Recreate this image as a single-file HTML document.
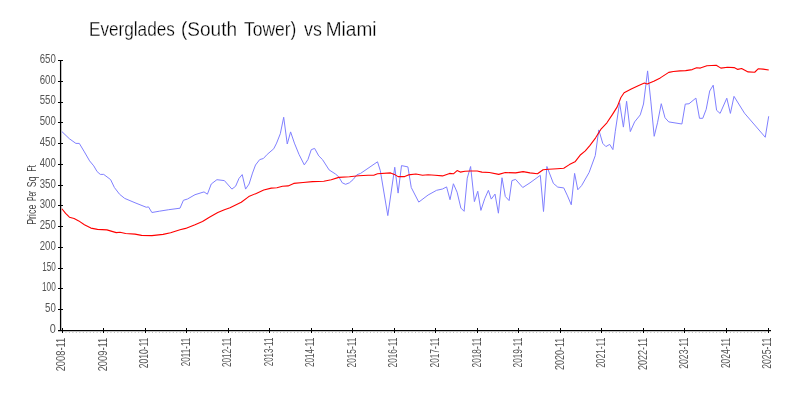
<!DOCTYPE html><html><head><meta charset="utf-8"><style>html,body{margin:0;padding:0;background:#fff;}svg{display:block;will-change:transform;}text{font-family:"Liberation Sans",sans-serif;}</style></head><body>
<svg width="800" height="400" viewBox="0 0 800 400">
<rect width="800" height="400" fill="#fff"/>
<text x="88.96" y="35.8" font-size="21" fill="#000" stroke="#fff" stroke-width="0.3" textLength="85.90" lengthAdjust="spacingAndGlyphs">Everglades</text>
<text x="180.99" y="35.8" font-size="21" fill="#000" stroke="#fff" stroke-width="0.3" textLength="56.05" lengthAdjust="spacingAndGlyphs">(South</text>
<text x="244.00" y="35.8" font-size="21" fill="#000" stroke="#fff" stroke-width="0.3" textLength="52.45" lengthAdjust="spacingAndGlyphs">Tower)</text>
<text x="304.00" y="35.8" font-size="21" fill="#000" stroke="#fff" stroke-width="0.3" textLength="17.85" lengthAdjust="spacingAndGlyphs">vs</text>
<text x="325.68" y="35.8" font-size="21" fill="#000" stroke="#fff" stroke-width="0.3" textLength="50.82" lengthAdjust="spacingAndGlyphs">Miami</text>
<g transform="translate(35.9,0) rotate(-90)">
<text x="-224.84" y="0" font-size="12" fill="#444" textLength="20.19" lengthAdjust="spacingAndGlyphs">Price</text>
<text x="-201.06" y="0" font-size="12" fill="#444" textLength="10.38" lengthAdjust="spacingAndGlyphs">Per</text>
<text x="-187.23" y="0" font-size="12" fill="#444" textLength="10.73" lengthAdjust="spacingAndGlyphs">Sq</text>
<text x="-171.60" y="0" font-size="12" fill="#444" textLength="6.40" lengthAdjust="spacingAndGlyphs">Ft</text>
</g>
<line x1="58" y1="330.5" x2="63" y2="330.5" stroke="#000" stroke-width="1"/>
<text x="49.80" y="332.90" font-size="12.5" fill="#555" textLength="6.06" lengthAdjust="spacingAndGlyphs">0</text>
<line x1="58" y1="309.5" x2="63" y2="309.5" stroke="#000" stroke-width="1"/>
<text x="45.10" y="312.13" font-size="12.5" fill="#555" textLength="10.73" lengthAdjust="spacingAndGlyphs">50</text>
<line x1="58" y1="288.5" x2="63" y2="288.5" stroke="#000" stroke-width="1"/>
<text x="42.04" y="291.36" font-size="12.5" fill="#555" textLength="13.77" lengthAdjust="spacingAndGlyphs">100</text>
<line x1="58" y1="268.5" x2="63" y2="268.5" stroke="#000" stroke-width="1"/>
<text x="42.25" y="270.59" font-size="12.5" fill="#555" textLength="13.56" lengthAdjust="spacingAndGlyphs">150</text>
<line x1="58" y1="247.5" x2="63" y2="247.5" stroke="#000" stroke-width="1"/>
<text x="39.70" y="249.82" font-size="12.5" fill="#555" textLength="16.09" lengthAdjust="spacingAndGlyphs">200</text>
<line x1="58" y1="226.5" x2="63" y2="226.5" stroke="#000" stroke-width="1"/>
<text x="39.70" y="229.05" font-size="12.5" fill="#555" textLength="16.09" lengthAdjust="spacingAndGlyphs">250</text>
<line x1="58" y1="205.5" x2="63" y2="205.5" stroke="#000" stroke-width="1"/>
<text x="39.70" y="208.28" font-size="12.5" fill="#555" textLength="16.09" lengthAdjust="spacingAndGlyphs">300</text>
<line x1="58" y1="185.5" x2="63" y2="185.5" stroke="#000" stroke-width="1"/>
<text x="39.70" y="187.52" font-size="12.5" fill="#555" textLength="16.09" lengthAdjust="spacingAndGlyphs">350</text>
<line x1="58" y1="164.5" x2="63" y2="164.5" stroke="#000" stroke-width="1"/>
<text x="39.70" y="166.75" font-size="12.5" fill="#555" textLength="16.09" lengthAdjust="spacingAndGlyphs">400</text>
<line x1="58" y1="143.5" x2="63" y2="143.5" stroke="#000" stroke-width="1"/>
<text x="39.70" y="145.98" font-size="12.5" fill="#555" textLength="16.09" lengthAdjust="spacingAndGlyphs">450</text>
<line x1="58" y1="122.5" x2="63" y2="122.5" stroke="#000" stroke-width="1"/>
<text x="39.70" y="125.21" font-size="12.5" fill="#555" textLength="16.09" lengthAdjust="spacingAndGlyphs">500</text>
<line x1="58" y1="102.5" x2="63" y2="102.5" stroke="#000" stroke-width="1"/>
<text x="39.70" y="104.44" font-size="12.5" fill="#555" textLength="16.09" lengthAdjust="spacingAndGlyphs">550</text>
<line x1="58" y1="81.5" x2="63" y2="81.5" stroke="#000" stroke-width="1"/>
<text x="39.70" y="83.67" font-size="12.5" fill="#555" textLength="16.09" lengthAdjust="spacingAndGlyphs">600</text>
<line x1="58" y1="60.5" x2="63" y2="60.5" stroke="#000" stroke-width="1"/>
<text x="39.70" y="62.90" font-size="12.5" fill="#555" textLength="16.09" lengthAdjust="spacingAndGlyphs">650</text>
<rect x="65.46" y="332" width="1" height="1" fill="#bbb"/>
<rect x="68.92" y="332" width="1" height="1" fill="#bbb"/>
<rect x="72.38" y="332" width="1" height="1" fill="#bbb"/>
<rect x="75.84" y="332" width="1" height="1" fill="#bbb"/>
<rect x="79.30" y="332" width="1" height="1" fill="#bbb"/>
<rect x="82.77" y="332" width="1" height="1" fill="#bbb"/>
<rect x="86.23" y="332" width="1" height="1" fill="#bbb"/>
<rect x="89.69" y="332" width="1" height="1" fill="#bbb"/>
<rect x="93.15" y="332" width="1" height="1" fill="#bbb"/>
<rect x="96.61" y="332" width="1" height="1" fill="#bbb"/>
<rect x="100.07" y="332" width="1" height="1" fill="#bbb"/>
<rect x="106.99" y="332" width="1" height="1" fill="#bbb"/>
<rect x="110.45" y="332" width="1" height="1" fill="#bbb"/>
<rect x="113.91" y="332" width="1" height="1" fill="#bbb"/>
<rect x="117.37" y="332" width="1" height="1" fill="#bbb"/>
<rect x="120.83" y="332" width="1" height="1" fill="#bbb"/>
<rect x="124.29" y="332" width="1" height="1" fill="#bbb"/>
<rect x="127.76" y="332" width="1" height="1" fill="#bbb"/>
<rect x="131.22" y="332" width="1" height="1" fill="#bbb"/>
<rect x="134.68" y="332" width="1" height="1" fill="#bbb"/>
<rect x="138.14" y="332" width="1" height="1" fill="#bbb"/>
<rect x="141.60" y="332" width="1" height="1" fill="#bbb"/>
<rect x="148.52" y="332" width="1" height="1" fill="#bbb"/>
<rect x="151.98" y="332" width="1" height="1" fill="#bbb"/>
<rect x="155.44" y="332" width="1" height="1" fill="#bbb"/>
<rect x="158.90" y="332" width="1" height="1" fill="#bbb"/>
<rect x="162.36" y="332" width="1" height="1" fill="#bbb"/>
<rect x="165.82" y="332" width="1" height="1" fill="#bbb"/>
<rect x="169.29" y="332" width="1" height="1" fill="#bbb"/>
<rect x="172.75" y="332" width="1" height="1" fill="#bbb"/>
<rect x="176.21" y="332" width="1" height="1" fill="#bbb"/>
<rect x="179.67" y="332" width="1" height="1" fill="#bbb"/>
<rect x="183.13" y="332" width="1" height="1" fill="#bbb"/>
<rect x="190.05" y="332" width="1" height="1" fill="#bbb"/>
<rect x="193.51" y="332" width="1" height="1" fill="#bbb"/>
<rect x="196.97" y="332" width="1" height="1" fill="#bbb"/>
<rect x="200.43" y="332" width="1" height="1" fill="#bbb"/>
<rect x="203.89" y="332" width="1" height="1" fill="#bbb"/>
<rect x="207.35" y="332" width="1" height="1" fill="#bbb"/>
<rect x="210.82" y="332" width="1" height="1" fill="#bbb"/>
<rect x="214.28" y="332" width="1" height="1" fill="#bbb"/>
<rect x="217.74" y="332" width="1" height="1" fill="#bbb"/>
<rect x="221.20" y="332" width="1" height="1" fill="#bbb"/>
<rect x="224.66" y="332" width="1" height="1" fill="#bbb"/>
<rect x="231.58" y="332" width="1" height="1" fill="#bbb"/>
<rect x="235.04" y="332" width="1" height="1" fill="#bbb"/>
<rect x="238.50" y="332" width="1" height="1" fill="#bbb"/>
<rect x="241.96" y="332" width="1" height="1" fill="#bbb"/>
<rect x="245.42" y="332" width="1" height="1" fill="#bbb"/>
<rect x="248.88" y="332" width="1" height="1" fill="#bbb"/>
<rect x="252.35" y="332" width="1" height="1" fill="#bbb"/>
<rect x="255.81" y="332" width="1" height="1" fill="#bbb"/>
<rect x="259.27" y="332" width="1" height="1" fill="#bbb"/>
<rect x="262.73" y="332" width="1" height="1" fill="#bbb"/>
<rect x="266.19" y="332" width="1" height="1" fill="#bbb"/>
<rect x="273.11" y="332" width="1" height="1" fill="#bbb"/>
<rect x="276.57" y="332" width="1" height="1" fill="#bbb"/>
<rect x="280.03" y="332" width="1" height="1" fill="#bbb"/>
<rect x="283.49" y="332" width="1" height="1" fill="#bbb"/>
<rect x="286.95" y="332" width="1" height="1" fill="#bbb"/>
<rect x="290.41" y="332" width="1" height="1" fill="#bbb"/>
<rect x="293.88" y="332" width="1" height="1" fill="#bbb"/>
<rect x="297.34" y="332" width="1" height="1" fill="#bbb"/>
<rect x="300.80" y="332" width="1" height="1" fill="#bbb"/>
<rect x="304.26" y="332" width="1" height="1" fill="#bbb"/>
<rect x="307.72" y="332" width="1" height="1" fill="#bbb"/>
<rect x="314.64" y="332" width="1" height="1" fill="#bbb"/>
<rect x="318.10" y="332" width="1" height="1" fill="#bbb"/>
<rect x="321.56" y="332" width="1" height="1" fill="#bbb"/>
<rect x="325.02" y="332" width="1" height="1" fill="#bbb"/>
<rect x="328.48" y="332" width="1" height="1" fill="#bbb"/>
<rect x="331.94" y="332" width="1" height="1" fill="#bbb"/>
<rect x="335.41" y="332" width="1" height="1" fill="#bbb"/>
<rect x="338.87" y="332" width="1" height="1" fill="#bbb"/>
<rect x="342.33" y="332" width="1" height="1" fill="#bbb"/>
<rect x="345.79" y="332" width="1" height="1" fill="#bbb"/>
<rect x="349.25" y="332" width="1" height="1" fill="#bbb"/>
<rect x="356.17" y="332" width="1" height="1" fill="#bbb"/>
<rect x="359.63" y="332" width="1" height="1" fill="#bbb"/>
<rect x="363.09" y="332" width="1" height="1" fill="#bbb"/>
<rect x="366.55" y="332" width="1" height="1" fill="#bbb"/>
<rect x="370.01" y="332" width="1" height="1" fill="#bbb"/>
<rect x="373.48" y="332" width="1" height="1" fill="#bbb"/>
<rect x="376.94" y="332" width="1" height="1" fill="#bbb"/>
<rect x="380.40" y="332" width="1" height="1" fill="#bbb"/>
<rect x="383.86" y="332" width="1" height="1" fill="#bbb"/>
<rect x="387.32" y="332" width="1" height="1" fill="#bbb"/>
<rect x="390.78" y="332" width="1" height="1" fill="#bbb"/>
<rect x="397.70" y="332" width="1" height="1" fill="#bbb"/>
<rect x="401.16" y="332" width="1" height="1" fill="#bbb"/>
<rect x="404.62" y="332" width="1" height="1" fill="#bbb"/>
<rect x="408.08" y="332" width="1" height="1" fill="#bbb"/>
<rect x="411.54" y="332" width="1" height="1" fill="#bbb"/>
<rect x="415.01" y="332" width="1" height="1" fill="#bbb"/>
<rect x="418.47" y="332" width="1" height="1" fill="#bbb"/>
<rect x="421.93" y="332" width="1" height="1" fill="#bbb"/>
<rect x="425.39" y="332" width="1" height="1" fill="#bbb"/>
<rect x="428.85" y="332" width="1" height="1" fill="#bbb"/>
<rect x="432.31" y="332" width="1" height="1" fill="#bbb"/>
<rect x="439.23" y="332" width="1" height="1" fill="#bbb"/>
<rect x="442.69" y="332" width="1" height="1" fill="#bbb"/>
<rect x="446.15" y="332" width="1" height="1" fill="#bbb"/>
<rect x="449.61" y="332" width="1" height="1" fill="#bbb"/>
<rect x="453.07" y="332" width="1" height="1" fill="#bbb"/>
<rect x="456.54" y="332" width="1" height="1" fill="#bbb"/>
<rect x="460.00" y="332" width="1" height="1" fill="#bbb"/>
<rect x="463.46" y="332" width="1" height="1" fill="#bbb"/>
<rect x="466.92" y="332" width="1" height="1" fill="#bbb"/>
<rect x="470.38" y="332" width="1" height="1" fill="#bbb"/>
<rect x="473.84" y="332" width="1" height="1" fill="#bbb"/>
<rect x="480.76" y="332" width="1" height="1" fill="#bbb"/>
<rect x="484.22" y="332" width="1" height="1" fill="#bbb"/>
<rect x="487.68" y="332" width="1" height="1" fill="#bbb"/>
<rect x="491.14" y="332" width="1" height="1" fill="#bbb"/>
<rect x="494.60" y="332" width="1" height="1" fill="#bbb"/>
<rect x="498.06" y="332" width="1" height="1" fill="#bbb"/>
<rect x="501.53" y="332" width="1" height="1" fill="#bbb"/>
<rect x="504.99" y="332" width="1" height="1" fill="#bbb"/>
<rect x="508.45" y="332" width="1" height="1" fill="#bbb"/>
<rect x="511.91" y="332" width="1" height="1" fill="#bbb"/>
<rect x="515.37" y="332" width="1" height="1" fill="#bbb"/>
<rect x="522.29" y="332" width="1" height="1" fill="#bbb"/>
<rect x="525.75" y="332" width="1" height="1" fill="#bbb"/>
<rect x="529.21" y="332" width="1" height="1" fill="#bbb"/>
<rect x="532.67" y="332" width="1" height="1" fill="#bbb"/>
<rect x="536.13" y="332" width="1" height="1" fill="#bbb"/>
<rect x="539.60" y="332" width="1" height="1" fill="#bbb"/>
<rect x="543.06" y="332" width="1" height="1" fill="#bbb"/>
<rect x="546.52" y="332" width="1" height="1" fill="#bbb"/>
<rect x="549.98" y="332" width="1" height="1" fill="#bbb"/>
<rect x="553.44" y="332" width="1" height="1" fill="#bbb"/>
<rect x="556.90" y="332" width="1" height="1" fill="#bbb"/>
<rect x="563.82" y="332" width="1" height="1" fill="#bbb"/>
<rect x="567.28" y="332" width="1" height="1" fill="#bbb"/>
<rect x="570.74" y="332" width="1" height="1" fill="#bbb"/>
<rect x="574.20" y="332" width="1" height="1" fill="#bbb"/>
<rect x="577.66" y="332" width="1" height="1" fill="#bbb"/>
<rect x="581.12" y="332" width="1" height="1" fill="#bbb"/>
<rect x="584.59" y="332" width="1" height="1" fill="#bbb"/>
<rect x="588.05" y="332" width="1" height="1" fill="#bbb"/>
<rect x="591.51" y="332" width="1" height="1" fill="#bbb"/>
<rect x="594.97" y="332" width="1" height="1" fill="#bbb"/>
<rect x="598.43" y="332" width="1" height="1" fill="#bbb"/>
<rect x="605.35" y="332" width="1" height="1" fill="#bbb"/>
<rect x="608.81" y="332" width="1" height="1" fill="#bbb"/>
<rect x="612.27" y="332" width="1" height="1" fill="#bbb"/>
<rect x="615.73" y="332" width="1" height="1" fill="#bbb"/>
<rect x="619.19" y="332" width="1" height="1" fill="#bbb"/>
<rect x="622.66" y="332" width="1" height="1" fill="#bbb"/>
<rect x="626.12" y="332" width="1" height="1" fill="#bbb"/>
<rect x="629.58" y="332" width="1" height="1" fill="#bbb"/>
<rect x="633.04" y="332" width="1" height="1" fill="#bbb"/>
<rect x="636.50" y="332" width="1" height="1" fill="#bbb"/>
<rect x="639.96" y="332" width="1" height="1" fill="#bbb"/>
<rect x="646.88" y="332" width="1" height="1" fill="#bbb"/>
<rect x="650.34" y="332" width="1" height="1" fill="#bbb"/>
<rect x="653.80" y="332" width="1" height="1" fill="#bbb"/>
<rect x="657.26" y="332" width="1" height="1" fill="#bbb"/>
<rect x="660.72" y="332" width="1" height="1" fill="#bbb"/>
<rect x="664.19" y="332" width="1" height="1" fill="#bbb"/>
<rect x="667.65" y="332" width="1" height="1" fill="#bbb"/>
<rect x="671.11" y="332" width="1" height="1" fill="#bbb"/>
<rect x="674.57" y="332" width="1" height="1" fill="#bbb"/>
<rect x="678.03" y="332" width="1" height="1" fill="#bbb"/>
<rect x="681.49" y="332" width="1" height="1" fill="#bbb"/>
<rect x="688.41" y="332" width="1" height="1" fill="#bbb"/>
<rect x="691.87" y="332" width="1" height="1" fill="#bbb"/>
<rect x="695.33" y="332" width="1" height="1" fill="#bbb"/>
<rect x="698.79" y="332" width="1" height="1" fill="#bbb"/>
<rect x="702.25" y="332" width="1" height="1" fill="#bbb"/>
<rect x="705.72" y="332" width="1" height="1" fill="#bbb"/>
<rect x="709.18" y="332" width="1" height="1" fill="#bbb"/>
<rect x="712.64" y="332" width="1" height="1" fill="#bbb"/>
<rect x="716.10" y="332" width="1" height="1" fill="#bbb"/>
<rect x="719.56" y="332" width="1" height="1" fill="#bbb"/>
<rect x="723.02" y="332" width="1" height="1" fill="#bbb"/>
<rect x="729.94" y="332" width="1" height="1" fill="#bbb"/>
<rect x="733.40" y="332" width="1" height="1" fill="#bbb"/>
<rect x="736.86" y="332" width="1" height="1" fill="#bbb"/>
<rect x="740.32" y="332" width="1" height="1" fill="#bbb"/>
<rect x="743.78" y="332" width="1" height="1" fill="#bbb"/>
<rect x="747.25" y="332" width="1" height="1" fill="#bbb"/>
<rect x="750.71" y="332" width="1" height="1" fill="#bbb"/>
<rect x="754.17" y="332" width="1" height="1" fill="#bbb"/>
<rect x="757.63" y="332" width="1" height="1" fill="#bbb"/>
<rect x="761.09" y="332" width="1" height="1" fill="#bbb"/>
<rect x="764.55" y="332" width="1" height="1" fill="#bbb"/>
<line x1="62.5" y1="328" x2="62.5" y2="333" stroke="#000" stroke-width="1"/>
<text transform="translate(65.20,337.7) rotate(-90)" font-size="12.5" fill="#555" text-anchor="end" textLength="33.65" lengthAdjust="spacingAndGlyphs">2008-11</text>
<line x1="103.5" y1="328" x2="103.5" y2="333" stroke="#000" stroke-width="1"/>
<text transform="translate(106.73,337.7) rotate(-90)" font-size="12.5" fill="#555" text-anchor="end" textLength="33.65" lengthAdjust="spacingAndGlyphs">2009-11</text>
<line x1="145.5" y1="328" x2="145.5" y2="333" stroke="#000" stroke-width="1"/>
<text transform="translate(148.26,337.7) rotate(-90)" font-size="12.5" fill="#555" text-anchor="end" textLength="30.65" lengthAdjust="spacingAndGlyphs">2010-11</text>
<line x1="186.5" y1="328" x2="186.5" y2="333" stroke="#000" stroke-width="1"/>
<text transform="translate(189.79,337.7) rotate(-90)" font-size="12.5" fill="#555" text-anchor="end" textLength="28.55" lengthAdjust="spacingAndGlyphs">2011-11</text>
<line x1="228.5" y1="328" x2="228.5" y2="333" stroke="#000" stroke-width="1"/>
<text transform="translate(231.32,337.7) rotate(-90)" font-size="12.5" fill="#555" text-anchor="end" textLength="29.4" lengthAdjust="spacingAndGlyphs">2012-11</text>
<line x1="269.5" y1="328" x2="269.5" y2="333" stroke="#000" stroke-width="1"/>
<text transform="translate(272.85,337.7) rotate(-90)" font-size="12.5" fill="#555" text-anchor="end" textLength="28.55" lengthAdjust="spacingAndGlyphs">2013-11</text>
<line x1="311.5" y1="328" x2="311.5" y2="333" stroke="#000" stroke-width="1"/>
<text transform="translate(314.38,337.7) rotate(-90)" font-size="12.5" fill="#555" text-anchor="end" textLength="29.4" lengthAdjust="spacingAndGlyphs">2014-11</text>
<line x1="352.5" y1="328" x2="352.5" y2="333" stroke="#000" stroke-width="1"/>
<text transform="translate(355.91,337.7) rotate(-90)" font-size="12.5" fill="#555" text-anchor="end" textLength="29.75" lengthAdjust="spacingAndGlyphs">2015-11</text>
<line x1="394.5" y1="328" x2="394.5" y2="333" stroke="#000" stroke-width="1"/>
<text transform="translate(397.44,337.7) rotate(-90)" font-size="12.5" fill="#555" text-anchor="end" textLength="29.75" lengthAdjust="spacingAndGlyphs">2016-11</text>
<line x1="435.5" y1="328" x2="435.5" y2="333" stroke="#000" stroke-width="1"/>
<text transform="translate(438.97,337.7) rotate(-90)" font-size="12.5" fill="#555" text-anchor="end" textLength="29.75" lengthAdjust="spacingAndGlyphs">2017-11</text>
<line x1="477.5" y1="328" x2="477.5" y2="333" stroke="#000" stroke-width="1"/>
<text transform="translate(480.50,337.7) rotate(-90)" font-size="12.5" fill="#555" text-anchor="end" textLength="29.75" lengthAdjust="spacingAndGlyphs">2018-11</text>
<line x1="518.5" y1="328" x2="518.5" y2="333" stroke="#000" stroke-width="1"/>
<text transform="translate(522.03,337.7) rotate(-90)" font-size="12.5" fill="#555" text-anchor="end" textLength="29.75" lengthAdjust="spacingAndGlyphs">2019-11</text>
<line x1="560.5" y1="328" x2="560.5" y2="333" stroke="#000" stroke-width="1"/>
<text transform="translate(563.56,337.7) rotate(-90)" font-size="12.5" fill="#555" text-anchor="end" textLength="32.25" lengthAdjust="spacingAndGlyphs">2020-11</text>
<line x1="601.5" y1="328" x2="601.5" y2="333" stroke="#000" stroke-width="1"/>
<text transform="translate(605.09,337.7) rotate(-90)" font-size="12.5" fill="#555" text-anchor="end" textLength="30.15" lengthAdjust="spacingAndGlyphs">2021-11</text>
<line x1="643.5" y1="328" x2="643.5" y2="333" stroke="#000" stroke-width="1"/>
<text transform="translate(646.62,337.7) rotate(-90)" font-size="12.5" fill="#555" text-anchor="end" textLength="32.25" lengthAdjust="spacingAndGlyphs">2022-11</text>
<line x1="684.5" y1="328" x2="684.5" y2="333" stroke="#000" stroke-width="1"/>
<text transform="translate(688.15,337.7) rotate(-90)" font-size="12.5" fill="#555" text-anchor="end" textLength="31.05" lengthAdjust="spacingAndGlyphs">2023-11</text>
<line x1="726.5" y1="328" x2="726.5" y2="333" stroke="#000" stroke-width="1"/>
<text transform="translate(729.68,337.7) rotate(-90)" font-size="12.5" fill="#555" text-anchor="end" textLength="30.4" lengthAdjust="spacingAndGlyphs">2024-11</text>
<line x1="768.5" y1="328" x2="768.5" y2="333" stroke="#000" stroke-width="1"/>
<text transform="translate(771.21,337.7) rotate(-90)" font-size="12.5" fill="#555" text-anchor="end" textLength="31.05" lengthAdjust="spacingAndGlyphs">2025-11</text>
<line x1="60.6" y1="60" x2="60.6" y2="331" stroke="#000" stroke-width="1.3"/>
<line x1="58" y1="330.6" x2="771" y2="330.6" stroke="#000" stroke-width="1.3"/>
<polyline points="61.90,131.60 69.40,138.75 75.90,143.40 79.30,143.40 84.40,151.90 89.60,160.90 93.75,165.90 97.10,171.60 100.30,174.40 103.70,174.40 110.60,179.60 114.40,187.50 119.60,194.30 124.70,198.40 135.00,202.75 146.25,207.25 148.50,206.90 151.90,212.50 159.40,211.20 168.75,209.70 180.00,208.20 183.40,200.30 187.50,199.00 195.00,194.70 204.00,191.90 207.40,194.20 211.25,184.00 216.90,179.70 224.40,180.60 231.90,189.10 235.60,186.25 239.00,178.40 242.20,174.60 245.60,189.10 249.10,184.00 252.50,173.10 255.50,165.00 259.70,159.60 263.40,158.50 267.20,154.40 273.75,148.75 276.60,143.10 280.30,133.75 283.70,117.25 287.25,144.00 290.60,131.90 294.40,143.10 299.00,154.40 304.30,164.90 307.90,159.60 311.25,149.70 314.60,148.40 318.75,155.90 322.50,159.60 329.10,169.90 335.60,174.10 338.75,176.90 342.25,182.80 345.60,184.30 349.40,182.80 353.10,179.60 356.90,174.75 360.60,173.40 377.50,161.80 380.30,170.60 387.80,215.60 394.75,167.25 398.10,193.10 401.50,165.60 407.90,166.90 411.25,187.50 418.75,202.10 428.10,195.00 436.60,190.30 442.50,189.00 446.60,186.90 450.00,199.70 453.40,183.75 457.10,192.20 460.90,208.10 464.10,211.30 467.25,178.10 470.60,166.50 474.40,201.60 477.75,191.25 480.90,210.40 484.70,198.75 488.40,190.30 491.25,199.10 495.00,194.10 498.40,213.20 502.00,177.75 505.30,196.50 509.10,200.60 511.90,180.60 515.60,179.40 522.75,187.50 530.00,182.80 540.30,175.30 543.50,211.50 546.90,166.50 553.40,183.40 557.75,187.10 563.75,187.90 567.50,195.90 571.25,204.75 574.60,173.40 577.80,189.75 581.60,185.60 589.10,172.50 595.25,155.60 598.80,129.90 602.75,143.40 605.90,146.60 609.70,144.40 612.90,149.60 615.30,131.25 619.60,102.75 623.40,127.10 626.60,101.25 630.30,131.60 634.60,121.90 640.25,114.90 643.50,104.00 647.60,70.90 650.90,101.90 654.20,136.30 657.50,122.80 661.25,103.70 665.00,117.75 668.75,121.90 681.90,124.00 685.25,104.10 689.00,103.75 695.90,98.10 699.50,118.30 702.75,118.30 706.20,109.30 709.70,91.00 713.20,85.20 716.60,110.30 720.10,113.40 726.80,98.20 730.40,113.40 734.00,96.35 744.50,113.20 765.25,137.25 768.70,116.25" fill="none" stroke="#8080ff" stroke-width="1" stroke-linejoin="round"/>
<polyline points="61.90,208.75 65.60,213.40 69.40,217.20 74.10,218.50 78.75,220.90 84.40,224.70 90.90,228.10 97.50,229.40 106.90,229.90 116.25,232.60 120.00,232.20 125.60,233.50 135.00,234.10 141.60,235.40 151.90,235.60 163.10,234.40 170.60,232.75 180.00,229.75 185.60,228.40 195.00,224.70 202.50,221.50 209.40,217.20 217.80,212.50 224.40,209.70 230.00,207.80 241.25,202.20 248.75,196.60 256.25,193.40 263.75,190.00 271.25,188.10 276.90,187.75 282.50,186.25 288.10,185.90 293.75,183.40 303.10,182.50 312.50,181.60 323.75,181.20 331.25,179.70 338.75,177.40 349.40,176.80 358.75,175.70 368.10,175.30 373.75,175.30 377.50,173.80 390.60,172.90 394.40,174.40 398.10,176.60 404.70,176.60 408.40,174.90 415.90,174.00 422.50,175.30 428.10,174.75 435.00,175.30 442.50,175.90 449.60,173.40 453.40,173.80 457.10,170.60 460.30,172.10 465.00,171.20 470.60,171.00 477.20,171.00 481.90,172.10 489.40,172.50 498.75,174.40 505.30,172.50 515.60,172.90 523.10,171.60 530.00,172.90 537.50,173.80 543.10,169.70 548.75,169.30 557.20,168.75 563.75,168.20 569.40,164.60 575.00,161.80 580.60,154.70 585.30,150.90 590.00,145.30 595.60,137.80 601.25,128.80 606.90,122.80 612.50,114.40 617.20,106.90 620.90,97.50 624.10,92.80 631.25,89.10 638.75,85.40 644.40,83.10 647.20,84.10 653.75,81.25 660.30,77.90 668.75,72.40 673.40,71.50 680.00,70.90 685.60,70.60 692.20,69.60 696.60,67.75 700.30,68.10 706.90,65.70 716.25,65.30 720.90,68.10 727.50,67.20 734.10,67.60 737.80,69.40 741.60,68.50 748.10,71.90 754.70,72.25 758.40,68.70 763.10,69.10 768.75,70.00" fill="none" stroke="#ff0000" stroke-width="1.1" stroke-linejoin="round"/>
</svg></body></html>
